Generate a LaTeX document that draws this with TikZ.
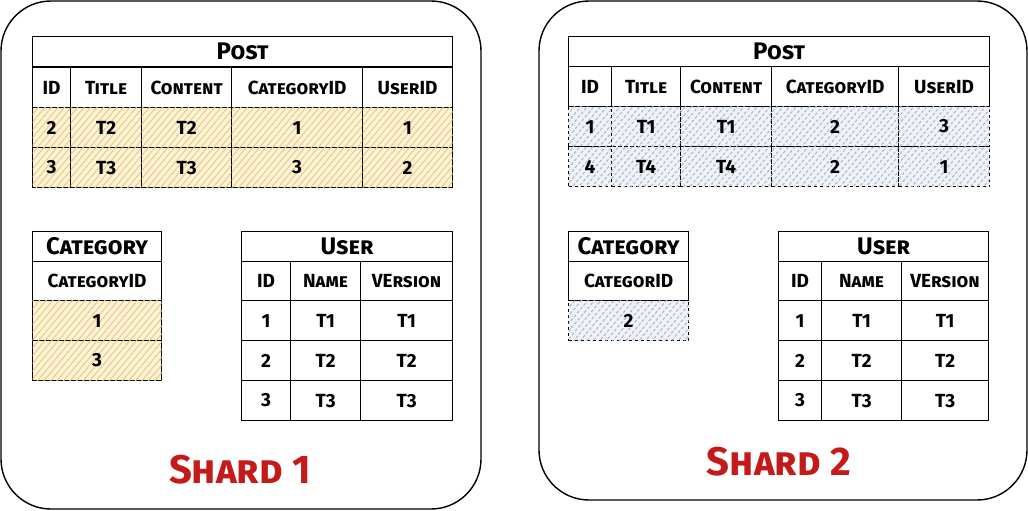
\documentclass[tikz,border=0pt]{standalone}
\usepackage{fontspec}
\setmainfont{Fira Sans}
\usetikzlibrary{patterns.meta}

\definecolor{shardred}{HTML}{C41A1A}
\definecolor{sandfill}{HTML}{FCF3D8}
\definecolor{sandline}{HTML}{EACB80}
\definecolor{slatefill}{HTML}{EFF2F6}
\definecolor{slateline}{HTML}{A9B5C7}

\begin{document}
\begin{tikzpicture}[x=1pt, y=-1pt,
    shard/.style={draw, line width=1.4pt, rounded corners=50pt},
    cell/.style={draw, line width=1.2pt, anchor=north west, inner sep=0pt,
        minimum height=40pt, font=\bfseries\scshape\fontsize{19}{19}\selectfont},
    tabtitle/.style={cell, minimum height=30pt,
        font=\bfseries\scshape\fontsize{24}{24}\selectfont},
    sandrow/.style={fill=sandfill,
        postaction={pattern={Lines[angle=50, distance=5pt, line width=1pt]},
            pattern color=sandline}},
    slaterow/.style={dashed, fill=slatefill,
        postaction={pattern={Lines[angle=50, distance=5pt, line width=1pt]},
            pattern color=slateline}},
    shardname/.style={text=shardred,
        font=\bfseries\scshape\fontsize{40}{40}\selectfont}]

\useasboundingbox (0,0) rectangle (1028,511);

% shard frames
    \draw[shard] (1,1) rectangle (481,509);
    \draw[shard] (539,1) rectangle (1027,500);

% shard 1 : post
    \node[tabtitle, minimum width=420pt] (postA) at (32,36) {Post};
    \foreach \x/\w/\t [count=\i] in {32/38/ID, 70/71/Title, 141/90/Content,
            231/131/CategoryID, 362/90/UserID}
        \node[cell, minimum width=\w pt] (postAh\i) at (\x,67) {\t};
    \foreach \x/\w/\a/\b [count=\i] in {32/38/2/3, 70/71/T2/T3, 141/90/T2/T3,
            231/131/1/3, 362/90/1/2} {
        \node[cell, sandrow, minimum width=\w pt] (postAa\i) at (\x,107) {\a};
        \node[cell, sandrow, minimum width=\w pt] (postAb\i) at (\x,147) {\b};
    }

% shard 1 : category
    \node[tabtitle, minimum width=129pt] (catA) at (32,231) {Category};
    \node[cell, minimum width=129pt, minimum height=39pt] (catAh) at (32,261) {CategoryID};
    \node[cell, sandrow, minimum width=129pt] (catAa) at (32,300) {1};
    \node[cell, sandrow, minimum width=129pt] (catAb) at (32,340) {3};

% shard 1 : user
    \node[tabtitle, minimum width=211pt] (userA) at (241,231) {User};
    \foreach \x/\w/\h/\a/\b/\c [count=\i] in {241/49/ID/1/2/3,
            290/70/Name/T1/T2/T3, 360/92/VErsion/T1/T2/T3} {
        \node[cell, minimum width=\w pt, minimum height=39pt] (userAh\i) at (\x,261) {\h};
        \node[cell, minimum width=\w pt] (userAa\i) at (\x,300) {\a};
        \node[cell, minimum width=\w pt] (userAb\i) at (\x,340) {\b};
        \node[cell, minimum width=\w pt] (userAc\i) at (\x,380) {\c};
    }

    \node[shardname] (shardA) at (240,470) {Shard 1};

% shard 2 : post
    \node[tabtitle, minimum width=421pt] (postB) at (568,36) {Post};
    \foreach \x/\w/\t [count=\i] in {568/43/ID, 611/69/Title, 680/91/Content,
            771/127/CategoryID, 898/91/UserID}
        \node[cell, minimum width=\w pt] (postBh\i) at (\x,66) {\t};
    \foreach \x/\w/\a/\b [count=\i] in {568/43/1/4, 611/69/T1/T4, 680/91/T1/T4,
            771/127/2/2, 898/91/3/1} {
        \node[cell, slaterow, minimum width=\w pt] (postBa\i) at (\x,106) {\a};
        \node[cell, slaterow, minimum width=\w pt] (postBb\i) at (\x,146) {\b};
    }

% shard 2 : category
    \node[tabtitle, minimum width=120pt] (catB) at (568,231) {Category};
    \node[cell, minimum width=120pt, minimum height=39pt] (catBh) at (568,261) {CategorID};
    \node[cell, slaterow, minimum width=120pt] (catBa) at (568,300) {2};

% shard 2 : user
    \node[tabtitle, minimum width=210pt] (userB) at (778,231) {User};
    \foreach \x/\w/\h/\a/\b/\c [count=\i] in {778/43/ID/1/2/3,
            821/80/Name/T1/T2/T3, 901/87/VErsion/T1/T2/T3} {
        \node[cell, minimum width=\w pt, minimum height=39pt] (userBh\i) at (\x,261) {\h};
        \node[cell, minimum width=\w pt] (userBa\i) at (\x,300) {\a};
        \node[cell, minimum width=\w pt] (userBb\i) at (\x,340) {\b};
        \node[cell, minimum width=\w pt] (userBc\i) at (\x,380) {\c};
    }

    \node[shardname] (shardB) at (779,462) {Shard 2};

\end{tikzpicture}
\end{document}
